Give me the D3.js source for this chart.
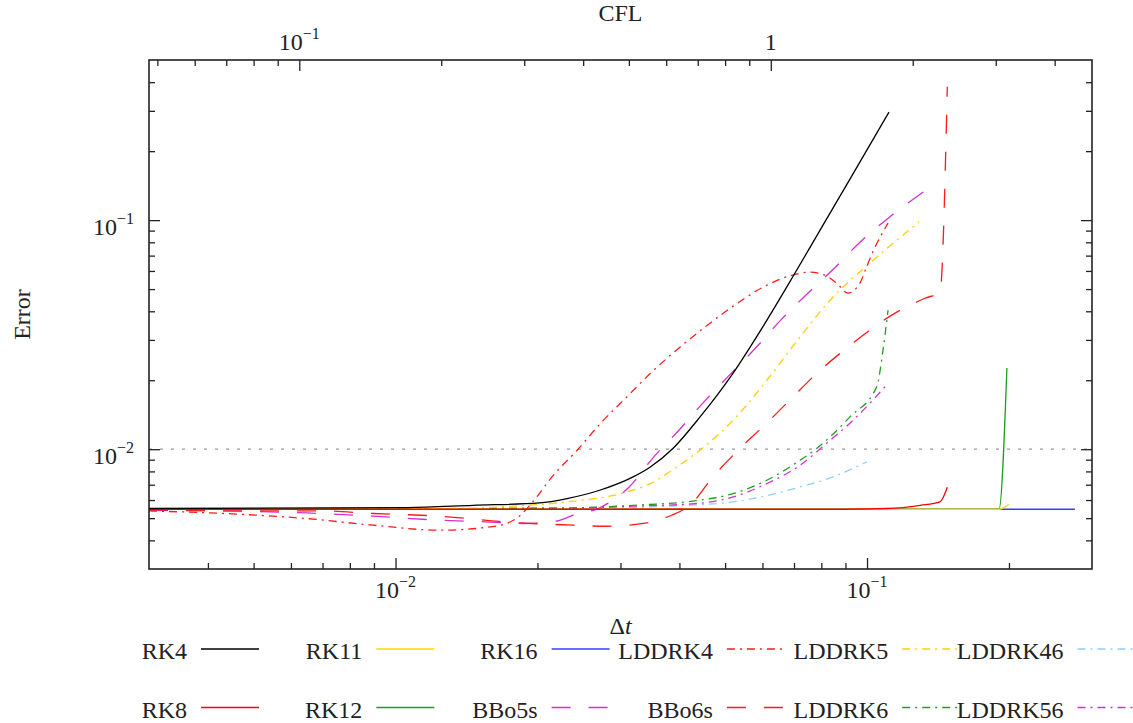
<!DOCTYPE html>
<html>
<head>
<meta charset="utf-8">
<script src="https://cdn.jsdelivr.net/npm/d3@7"></script>
<style>
  body { margin: 0; background: #fff; }
  text { font-family: "Liberation Serif", "DejaVu Serif", serif; fill: #222; }
</style>
</head>
<body>
<div id="chart"></div>
<script>
"use strict"

/* error vs time step, values as [dt, error] */
let rk4 = [[0.003,0.00551],[0.0106,0.00556],[0.0146,0.00569],[0.0202,0.00583],[0.0231,0.00609],
           [0.0271,0.00662],[0.0319,0.00757],[0.0347,0.00837],[0.0388,0.0101],[0.0442,0.0138],
           [0.052,0.0215],[0.0602,0.0344],[0.0697,0.0569],[0.0795,0.0904],[0.092,0.151],
           [0.1113,0.296]]
let rk8 = [[0.003,0.00547],[0.09,0.00547],[0.1101,0.00551],[0.1297,0.00569],[0.1428,0.00589],[0.148,0.00682]]
let rk11 = [[0.003,0.00547],[0.1905,0.00547],[0.2,0.00575]]
let rk12 = [[0.003,0.00547],[0.1905,0.00547],[0.198,0.0226]]
let rk16 = [[0.003,0.00547],[0.276,0.00547]]
let bbo5s = [[0.003,0.00541],[0.0043,0.00538],[0.00648,0.00527],[0.00896,0.0051],[0.01243,0.0049],
             [0.01586,0.00481],[0.01864,0.00474],[0.022,0.00486],[0.0238,0.00515],[0.0271,0.00555],
             [0.0313,0.00684],[0.0353,0.00926],[0.0399,0.0121],[0.0451,0.0161],[0.051,0.021],
             [0.0579,0.0275],[0.0656,0.0366],[0.0747,0.0477],[0.0851,0.0615],[0.0966,0.0801],
             [0.1112,0.1025],[0.1334,0.1352]]
let bbo6s = [[0.003,0.00545],[0.00468,0.00538],[0.00691,0.00538],[0.00896,0.00524],[0.01243,0.0051],
             [0.0172,0.00481],[0.0238,0.00466],[0.028,0.00461],[0.0341,0.00477],[0.0385,0.00515],
             [0.0421,0.00569],[0.0471,0.00757],[0.0538,0.0101],[0.0613,0.013],[0.0692,0.0167],
             [0.0795,0.0221],[0.0905,0.0276],[0.1048,0.0348],[0.1128,0.0385],[0.1327,0.0456],
             [0.1428,0.0485],[0.148,0.382]]
let lddrk4 = [[0.003,0.00538],[0.00468,0.0052],[0.00648,0.00498],[0.00896,0.00466],[0.01243,0.00443],
              [0.01586,0.00458],[0.0172,0.00474],[0.01807,0.005],[0.01993,0.00619],[0.02127,0.0074],
              [0.02438,0.01],[0.0271,0.01285],[0.0309,0.01687],[0.0352,0.02202],[0.0401,0.02789],
              [0.0457,0.03461],[0.052,0.04212],[0.0602,0.051],[0.0687,0.0572],[0.0757,0.0593],
              [0.0814,0.0575],[0.0862,0.0531],[0.0911,0.048],[0.0966,0.0531],[0.0998,0.0625],
              [0.1029,0.0727],[0.1108,0.097]]
let lddrk5 = [[0.003,0.00547],[0.0146,0.00553],[0.0166,0.0056],[0.0231,0.00589],[0.0304,0.00644],
              [0.0347,0.00708],[0.0395,0.00837],[0.0442,0.0099],[0.052,0.01338],[0.0613,0.02],
              [0.0721,0.0309],[0.0847,0.0462],[0.0998,0.063],[0.1289,0.0983]]
let lddrk6 = [[0.003,0.00547],[0.0223,0.00553],[0.0319,0.00569],[0.0442,0.00599],[0.052,0.0064],
              [0.0613,0.00732],[0.0721,0.00895],[0.0782,0.01007],[0.092,0.01384],[0.1048,0.01871],
              [0.1081,0.02706],[0.1108,0.04046]]
let lddrk46 = [[0.003,0.00547],[0.0271,0.00553],[0.0376,0.00564],[0.052,0.00589],[0.0721,0.00684],
               [0.0847,0.00757],[0.0998,0.0088]]
let lddrk56 = [[0.003,0.00547],[0.0223,0.00553],[0.0319,0.00564],[0.0442,0.00581],[0.052,0.00619],
               [0.0613,0.00708],[0.0721,0.00851],[0.0821,0.01062],[0.0934,0.01338],[0.1108,0.01936]]

/* legend order, column by column */
let seriesNames = ["RK4","RK8","RK11","RK12","RK16","BBo5s","LDDRK4","BBo6s","LDDRK5","LDDRK6","LDDRK46","LDDRK56"]
let seriesData = {RK4: rk4, RK8: rk8, RK11: rk11, RK12: rk12, RK16: rk16, BBo5s: bbo5s, BBo6s: bbo6s,
                  LDDRK4: lddrk4, LDDRK5: lddrk5, LDDRK6: lddrk6, LDDRK46: lddrk46, LDDRK56: lddrk56}
/* bottom layer first */
let drawOrder = ["RK16","RK12","RK11","LDDRK46","LDDRK56","LDDRK6","LDDRK5","BBo5s","BBo6s","LDDRK4","RK8","RK4"]

/* axes */
let dtDomain = [0.003, 0.3]
let errDomain = [0.003, 0.5]
let cflPerDt = 16
let dtMajor = [0.01, 0.1]
let dtMinor = [0.004,0.005,0.006,0.007,0.008,0.009,0.02,0.03,0.04,0.05,0.06,0.07,0.08,0.09,0.2]
let errMajor = [0.01, 0.1]
let errMinor = [0.004,0.005,0.006,0.007,0.008,0.009,0.02,0.03,0.04,0.05,0.06,0.07,0.08,0.09,0.2,0.3,0.4]
let cflMajor = [0.1, 1]
let cflMinor = [0.05,0.06,0.07,0.08,0.09,0.2,0.3,0.4,0.5,0.6,0.7,0.8,0.9,2,3,4]
let errLimit = 0.01

/* styles */
let dashed = "19,18"
let dashDot = "8,5,2,5"
let styles = {
  RK4: {color: "#000000", dash: null},
  RK8: {color: "#ff0000", dash: null},
  RK11: {color: "#ffd700", dash: null},
  RK12: {color: "#1e9e1e", dash: null},
  RK16: {color: "#3a3aff", dash: null},
  BBo5s: {color: "#d42ed4", dash: dashed},
  BBo6s: {color: "#ff1a1a", dash: dashed},
  LDDRK4: {color: "#ff1a1a", dash: dashDot},
  LDDRK5: {color: "#ffd000", dash: dashDot},
  LDDRK46: {color: "#8fd0fa", dash: dashDot},
  LDDRK6: {color: "#1ea01e", dash: dashDot},
  LDDRK56: {color: "#d42ed4", dash: dashDot}
}

let W = 1133, H = 723
let plotL = 149, plotR = 1092, plotT = 60, plotB = 569

let svg = d3.select("#chart").append("svg")
    .attr("width", W)
    .attr("height", H)

let x = d3.scaleLog().domain(dtDomain).range([plotL, plotR])
let y = d3.scaleLog().domain(errDomain).range([plotB, plotT])
let xCfl = d3.scaleLog().domain(dtDomain.map(d => d * cflPerDt)).range([plotL, plotR])

svg.append("defs").append("clipPath").attr("id", "plotclip")
  .append("rect").attr("x", plotL).attr("y", plotT).attr("width", plotR - plotL).attr("height", plotB - plotT)

/* dotted reference line at 1e-2 */
svg.append("line")
    .attr("x1", plotL).attr("x2", plotR)
    .attr("y1", y(errLimit)).attr("y2", y(errLimit))
    .attr("stroke", "#9a9a9a")
    .attr("stroke-width", 1.3)
    .attr("stroke-dasharray", "3,8")

let line = d3.line()
    .x(d => x(d[0]))
    .y(d => y(d[1]))
    .curve(d3.curveMonotoneX)

let curves = svg.append("g").attr("clip-path", "url(#plotclip)")
drawOrder.forEach(name => {
  curves.append("path")
      .attr("d", line(seriesData[name]))
      .attr("fill", "none")
      .attr("stroke", styles[name].color)
      .attr("stroke-width", 1.3)
      .attr("stroke-dasharray", styles[name].dash)
})

/* frame + ticks */
function tickAxis(axisFn, scale, values, size, tx, ty) {
  let g = svg.append("g")
      .attr("transform", `translate(${tx},${ty})`)
      .call(axisFn(scale).tickValues(values).tickSize(-size).tickFormat(""))
  g.select(".domain").remove()
  g.selectAll(".tick line").attr("stroke", "#222").attr("stroke-width", 1.3)
  return g
}
tickAxis(d3.axisBottom, x, dtMajor, 11, 0, plotB)
tickAxis(d3.axisBottom, x, dtMinor, 6, 0, plotB)
tickAxis(d3.axisTop, xCfl, cflMajor, 11, 0, plotT)
tickAxis(d3.axisTop, xCfl, cflMinor, 6, 0, plotT)
tickAxis(d3.axisLeft, y, errMajor, 11, plotL, 0)
tickAxis(d3.axisLeft, y, errMinor, 6, plotL, 0)
tickAxis(d3.axisRight, y, errMajor, 11, plotR, 0)
tickAxis(d3.axisRight, y, errMinor, 6, plotR, 0)

svg.append("rect")
    .attr("x", plotL).attr("y", plotT)
    .attr("width", plotR - plotL).attr("height", plotB - plotT)
    .attr("fill", "none")
    .attr("stroke", "#222")
    .attr("stroke-width", 1.6)

/* tick labels like 10^-2 */
function powerLabel(t, v) {
  let e = Math.round(Math.log10(v))
  if (e === 0) { t.append("tspan").text("1"); return }
  t.append("tspan").text("10")
  t.append("tspan").attr("dy", -11).attr("font-size", 16).text("\u2212" + Math.abs(e))
}

dtMajor.forEach(v => {
  let t = svg.append("text").attr("x", x(v)).attr("y", 598)
      .attr("text-anchor", "middle").attr("font-size", 24)
  powerLabel(t, v)
})
cflMajor.forEach(v => {
  let t = svg.append("text").attr("x", xCfl(v)).attr("y", 50)
      .attr("text-anchor", "middle").attr("font-size", 24)
  powerLabel(t, v)
})
errMajor.forEach(v => {
  let t = svg.append("text").attr("x", 134).attr("y", y(v) + 15)
      .attr("text-anchor", "end").attr("font-size", 24)
  powerLabel(t, v)
})

/* axis titles */
svg.append("text")
    .attr("x", (plotL + plotR) / 2).attr("y", 21)
    .attr("text-anchor", "middle").attr("font-size", 24)
    .text("CFL")

let dtTitle = svg.append("text")
    .attr("x", (plotL + plotR) / 2).attr("y", 634)
    .attr("text-anchor", "middle").attr("font-size", 24)
dtTitle.append("tspan").text("\u0394")
dtTitle.append("tspan").attr("font-style", "italic").text("t")

svg.append("text")
    .attr("transform", `translate(30,${(plotT + plotB) / 2}) rotate(-90)`)
    .attr("text-anchor", "middle").attr("font-size", 24)
    .text("Error")

/* legend: 6 columns x 2 rows, label then line sample */
let legend = svg.append("g")
seriesNames.forEach((name, i) => {
  let col = Math.floor(i / 2), row = i % 2
  let lx = 201 + col * 175.3
  let ly = row === 0 ? 649 : 707.5
  legend.append("line")
      .attr("x1", lx).attr("x2", lx + 58)
      .attr("y1", ly).attr("y2", ly)
      .attr("stroke", styles[name].color)
      .attr("stroke-width", 1.3)
      .attr("stroke-dasharray", styles[name].dash)
  legend.append("text")
      .attr("x", lx - 14).attr("y", ly + 10)
      .attr("text-anchor", "end").attr("font-size", 24)
      .text(name)
})
</script>
</body>
</html>
